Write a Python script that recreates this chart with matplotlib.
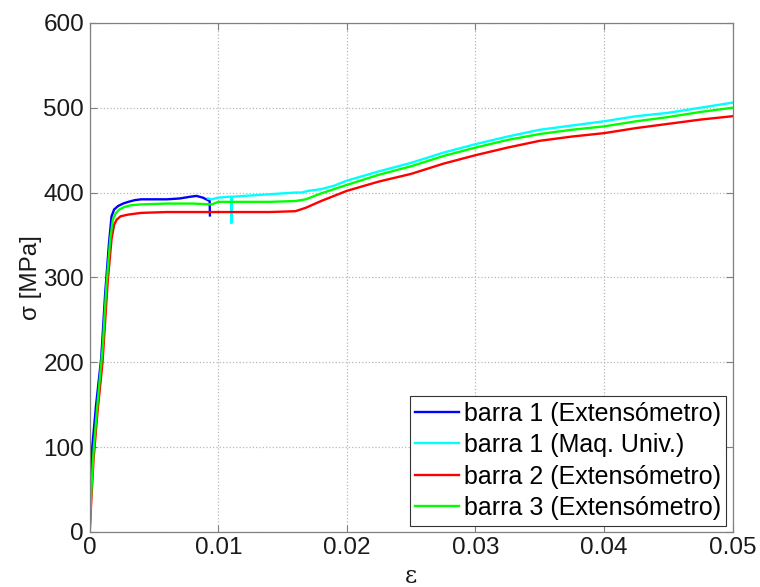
import matplotlib

matplotlib.use("Agg")
import matplotlib.pyplot as plt  # noqa: E402

# stress-strain curves (strain [-], stress [MPa])
b1_ext_strain = [0, 0.0001, 0.0002, 0.0005, 0.0009, 0.0012, 0.0015, 0.0017, 0.0019,
                 0.0022, 0.0026, 0.003, 0.0035, 0.004, 0.005, 0.006, 0.007, 0.0078,
                 0.0083, 0.0088, 0.0092, 0.00933, 0.00935]
b1_ext_stress = [0, 60, 100, 150, 205, 280, 340, 372, 380,
                 384, 387, 389, 391, 392, 392, 392, 393, 395,
                 396, 394, 391, 390, 373]

b1_maq_strain = [0.0092, 0.0095, 0.010, 0.0108, 0.0110, 0.01102, 0.01104, 0.012, 0.013,
                 0.014, 0.015, 0.016, 0.0165, 0.017, 0.018, 0.019, 0.02, 0.0225,
                 0.025, 0.0275, 0.03, 0.0325, 0.035, 0.0375, 0.04, 0.0425, 0.045,
                 0.0475, 0.05]
b1_maq_stress = [393, 392, 394, 395, 395, 364, 395, 396, 397,
                 398, 399, 400, 400, 402, 404, 408, 414, 425,
                 435, 447, 457, 466, 474, 479, 484, 490, 494,
                 500, 506]

b2_ext_strain = [0, 0.0001, 0.0003, 0.0006, 0.001, 0.0014, 0.0017, 0.0019, 0.0021,
                 0.0024, 0.003, 0.004, 0.006, 0.008, 0.010, 0.012, 0.014, 0.016,
                 0.0168, 0.018, 0.02, 0.0225, 0.025, 0.0275, 0.03, 0.0325, 0.035,
                 0.0375, 0.04, 0.0425, 0.045, 0.0475, 0.05]
b2_ext_stress = [0, 30, 85, 140, 200, 295, 345, 362, 368,
                 372, 374, 376, 377, 377, 377, 377, 377, 378,
                 382, 390, 402, 413, 422, 434, 444, 453, 461,
                 466, 470, 476, 481, 486, 490]

b3_ext_strain = [0, 0.0001, 0.0003, 0.0006, 0.001, 0.0013, 0.0016, 0.0018, 0.002,
                 0.0023, 0.0027, 0.0032, 0.004, 0.006, 0.008, 0.0095, 0.01, 0.012,
                 0.014, 0.016, 0.0168, 0.018, 0.02, 0.0225, 0.025, 0.0275, 0.03,
                 0.0325, 0.035, 0.0375, 0.04, 0.0425, 0.045, 0.0475, 0.05]
b3_ext_stress = [0, 40, 95, 150, 215, 290, 345, 368, 375,
                 380, 383, 385, 386, 387, 387, 386, 389, 389,
                 389, 390, 392, 399, 409, 421, 431, 443, 453,
                 462, 469, 474, 478, 484, 489, 495, 500]

labels = ["barra 1 (Extensómetro)", "barra 1 (Maq. Univ.)",
          "barra 2 (Extensómetro)", "barra 3 (Extensómetro)"]
colors = ["#0000ff", "#00ffff", "#ff0000", "#00ff00"]

x_ticks = [0, 0.01, 0.02, 0.03, 0.04, 0.05]
x_tick_labels = ["0", "0.01", "0.02", "0.03", "0.04", "0.05"]
y_ticks = [0, 100, 200, 300, 400, 500, 600]

plt.rcParams["font.family"] = ["Liberation Sans", "DejaVu Sans"]
plt.rcParams["font.size"] = 17.5

fig = plt.figure(figsize=(7.6, 5.87), dpi=100)
ax = fig.add_axes([0.118, 0.094, 0.846, 0.867])

series = [(b1_ext_strain, b1_ext_stress), (b1_maq_strain, b1_maq_stress),
          (b2_ext_strain, b2_ext_stress), (b3_ext_strain, b3_ext_stress)]
for (x, y), lab, col in zip(series, labels, colors):
    ax.plot(x, y, color=col, lw=1.7, label=lab)

ax.set_xlim(0, 0.05)
ax.set_ylim(0, 600)
ax.set_xticks(x_ticks)
ax.set_xticklabels(x_tick_labels)
ax.set_yticks(y_ticks)
ax.grid(True, ls=":", color="#b8b8b8", lw=0.9)
ax.tick_params(direction="in", top=True, right=True, length=5, width=0.8,
               colors="#808080", labelcolor="#1a1a1a", labelsize=17.5, pad=4)
for s in ax.spines.values():
    s.set_color("#808080")
    s.set_linewidth(0.9)

ax.set_ylabel("σ [MPa]", fontsize=17.5, color="#1a1a1a", labelpad=1)
ax.set_xlabel("ε", fontsize=17, family="DejaVu Serif", color="#1a1a1a", labelpad=4)

leg = ax.legend(loc="lower right", fontsize=18, frameon=True, fancybox=False,
                edgecolor="#333333", framealpha=1, borderaxespad=0.25,
                handlelength=1.75, handletextpad=0.2, labelspacing=0.3,
                borderpad=0.22)
leg.get_frame().set_linewidth(0.8)

fig.savefig("out.png", dpi=100)
